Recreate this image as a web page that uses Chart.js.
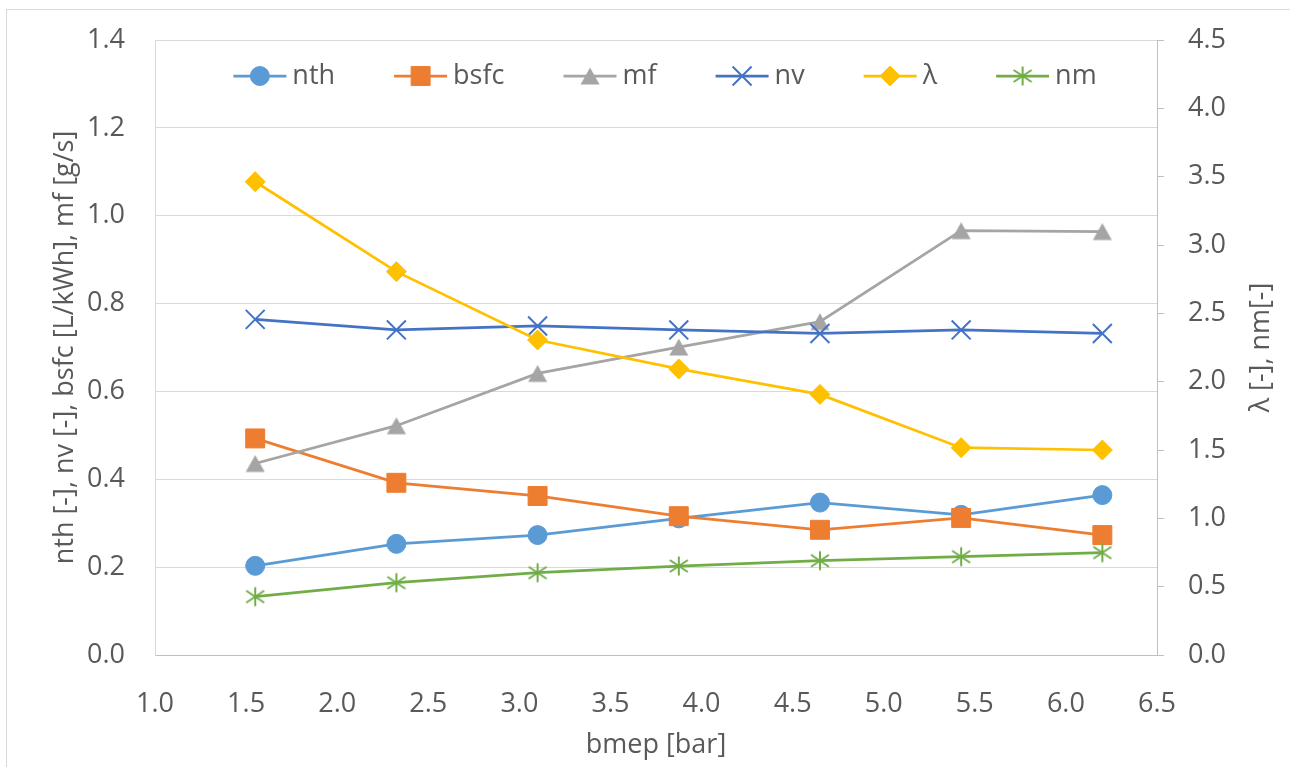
<!DOCTYPE html>
<html>
<head>
<meta charset="utf-8">
<script src="https://cdn.jsdelivr.net/npm/chart.js@4.4.1/dist/chart.umd.min.js"></script>
<style>
  html, body { margin: 0; padding: 0; background: #fff; overflow: hidden; }
  #frame { position: absolute; left: 6px; top: 9px; width: 1400px; height: 900px;
           border: 1px solid #D9D9D9; box-sizing: border-box; }
  canvas { position: absolute; left: 0; top: 0; }
</style>
</head>
<body>
<div id="frame"></div>
<canvas id="c" width="1290" height="767"></canvas>
<script>
// Engine test sweep: brake mean effective pressure [bar]
const bmep   = [1.55, 2.325, 3.10, 3.875, 4.65, 5.425, 6.20];

// Primary axis series
const nth    = [0.203, 0.253, 0.273, 0.311, 0.347, 0.319, 0.364];
const bsfc   = [0.493, 0.392, 0.362, 0.316, 0.285, 0.312, 0.273];
const mf     = [0.436, 0.522, 0.641, 0.701, 0.759, 0.966, 0.964];
const nv     = [0.764, 0.740, 0.749, 0.740, 0.732, 0.740, 0.732];

// Secondary axis series
const lambda = [3.463, 2.805, 2.305, 2.093, 1.907, 1.517, 1.500];
const nm     = [0.427, 0.529, 0.602, 0.651, 0.690, 0.719, 0.749];

const seriesNames = ['nth', 'bsfc', 'mf', 'nv', 'λ', 'nm'];

const FONT = '"Open Sans", sans-serif';
const TEXT = '#595959';
const FS = 27;

const colors = {
  nth: '#5B9BD5', bsfc: '#ED7D31', mf: '#A5A5A5',
  nv: '#4472C4', lambda: '#FFC000', nm: '#70AD47'
};

// Filled triangle marker, centred on its bounding box
function triangleMarker(color) {
  const c = document.createElement('canvas');
  c.width = 22; c.height = 20;
  const g = c.getContext('2d');
  g.fillStyle = color;
  g.beginPath();
  g.moveTo(11, 1.5); g.lineTo(20.5, 18.5); g.lineTo(1.5, 18.5);
  g.closePath(); g.fill();
  return c;
}

// Six-armed asterisk marker (diagonal cross plus vertical bar)
function starMarker(color) {
  const c = document.createElement('canvas');
  c.width = 24; c.height = 24;
  const g = c.getContext('2d');
  g.strokeStyle = color; g.lineWidth = 2; g.lineCap = 'butt';
  g.beginPath();
  g.moveTo(12, 2.5); g.lineTo(12, 21.5);
  g.moveTo(3, 6); g.lineTo(21, 18);
  g.moveTo(21, 6); g.lineTo(3, 18);
  g.stroke();
  return c;
}

const pts = ys => bmep.map((x, i) => ({ x, y: ys[i] }));

function series(label, ys, color, axis, style, radius, order, bw) {
  return {
    label, data: pts(ys), yAxisID: axis,
    borderColor: color, backgroundColor: color,
    pointBackgroundColor: color, pointBorderColor: color,
    borderWidth: 2.75, pointStyle: style, pointRadius: radius,
    pointHoverRadius: radius, pointBorderWidth: bw || 1,
    tension: 0, order
  };
}

const datasets = [
  series(seriesNames[0], nth,    colors.nth,    'y',  'circle',  9.5, 6),
  series(seriesNames[1], bsfc,   colors.bsfc,   'y',  'rect',   13.4, 5),
  series(seriesNames[2], mf,     colors.mf,     'y',  triangleMarker(colors.mf), 10, 4),
  series(seriesNames[3], nv,     colors.nv,     'y',  'crossRot', 13.4, 3, 2),
  series(seriesNames[4], lambda, colors.lambda, 'y1', 'rectRot', 10, 2),
  series(seriesNames[5], nm,     colors.nm,     'y1', starMarker(colors.nm), 10, 1)
];

// Legend drawn inside the plot area: line segment with marker, then label
const insideLegend = {
  id: 'insideLegend',
  afterDraw(chart) {
    const { ctx, chartArea } = chart;
    const lineLen = 53, textGap = 6, entryGap = 59, y = chartArea.top + 36;
    ctx.save();
    ctx.font = FS + 'px ' + FONT;
    const widths = chart.data.datasets.map(d => lineLen + textGap + ctx.measureText(d.label).width);
    const total = widths.reduce((a, b) => a + b, 0) + entryGap * (widths.length - 1);
    let x = (chartArea.left + chartArea.right) / 2 + 9 - total / 2;
    chart.data.datasets.forEach((d, i) => {
      ctx.strokeStyle = d.borderColor;
      ctx.lineWidth = d.borderWidth;
      ctx.beginPath();
      ctx.moveTo(x, y); ctx.lineTo(x + lineLen, y);
      ctx.stroke();
      ctx.fillStyle = d.backgroundColor;
      ctx.strokeStyle = d.pointBorderColor;
      ctx.lineWidth = d.pointBorderWidth;
      Chart.helpers.drawPoint(ctx, {
        pointStyle: d.pointStyle, radius: d.pointRadius, rotation: 0,
        borderWidth: d.pointBorderWidth
      }, x + lineLen / 2, y);
      ctx.fillStyle = TEXT;
      ctx.textAlign = 'left';
      ctx.textBaseline = 'middle';
      ctx.fillText(d.label, x + lineLen + textGap, y);
      x += widths[i] + entryGap;
    });
    ctx.restore();
  }
};

// Secondary axis title, reading bottom-to-top
const rightTitle = {
  id: 'rightTitle',
  afterDraw(chart) {
    const { ctx, chartArea } = chart;
    ctx.save();
    ctx.translate(1261, (chartArea.top + chartArea.bottom) / 2);
    ctx.rotate(-Math.PI / 2);
    ctx.font = FS + 'px ' + FONT;
    ctx.fillStyle = TEXT;
    ctx.textAlign = 'center';
    ctx.textBaseline = 'middle';
    ctx.fillText('λ [-], nm[-]', 0, 0);
    ctx.restore();
  }
};

const tickFont = { family: FONT, size: FS };

// Fixed side-axis width; tick padding should not push the plot area down
const fixVertical = w => s => { s.width = w; s.paddingTop = 0; s.paddingBottom = 0; };

function draw() {
  new Chart(document.getElementById('c'), {
    type: 'line',
    data: { datasets },
    plugins: [insideLegend, rightTitle],
    options: {
      responsive: false,
      animation: false,
      devicePixelRatio: 1,
      layout: { padding: { top: 40, left: 0, right: 0, bottom: 0 } },
      plugins: { legend: { display: false }, tooltip: { enabled: false } },
      scales: {
        x: {
          type: 'linear', position: 'bottom', min: 1, max: 6.5,
          afterFit: s => { s.height = 112; },
          ticks: { stepSize: 0.5, autoSkip: false, maxRotation: 0, padding: 25,
                   color: TEXT, font: tickFont, callback: v => v.toFixed(1) },
          grid: { display: false },
          border: { display: true, color: '#BFBFBF', width: 1 },
          title: { display: true, text: 'bmep [bar]', color: TEXT, font: tickFont,
                   padding: { top: 0, bottom: 5 } }
        },
        y: {
          position: 'left', min: 0, max: 1.4,
          afterFit: fixVertical(155),
          ticks: { stepSize: 0.2, padding: 30, color: TEXT, font: tickFont,
                   callback: v => v.toFixed(1) },
          grid: { color: '#D9D9D9', lineWidth: 1, drawTicks: false },
          border: { display: true, color: '#D9D9D9', width: 1 },
          title: { display: true, text: 'nth [-], nv [-], bsfc [L/kWh], mf [g/s]',
                   color: TEXT, font: tickFont, padding: { top: 49, bottom: 0 } }
        },
        y1: {
          position: 'right', min: 0, max: 4.5,
          afterFit: fixVertical(133),
          ticks: { stepSize: 0.5, padding: 24, color: TEXT, font: tickFont,
                   callback: v => v.toFixed(1) },
          grid: { drawOnChartArea: false, drawTicks: true, tickLength: 7,
                  color: '#BFBFBF', lineWidth: 1 },
          border: { display: true, color: '#BFBFBF', width: 1 }
        }
      }
    }
  });
}

if (document.fonts && document.fonts.load) {
  document.fonts.load(FS + 'px "Open Sans"').then(draw, draw);
} else {
  draw();
}
</script>
</body>
</html>
